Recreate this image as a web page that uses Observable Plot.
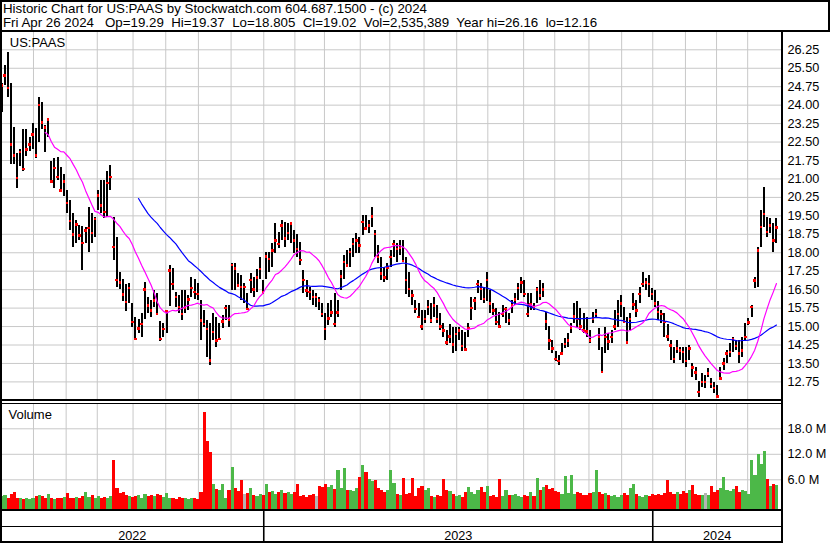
<!DOCTYPE html>
<html><head><meta charset="utf-8">
<script src="https://cdn.jsdelivr.net/npm/d3@7"></script>
<script src="https://cdn.jsdelivr.net/npm/@observablehq/plot@0.6"></script>
<style>
html,body{margin:0;padding:0;background:#fff;}
#chart{position:relative;width:830px;height:543px;overflow:hidden;font-family:"Liberation Sans",Arial,sans-serif;color:#000;}
#chart svg{position:absolute;left:0;}
.ln{position:absolute;background:#000;z-index:5;}
#title{position:absolute;left:0;top:0;width:830px;height:32px;box-sizing:border-box;border:2px solid #000;z-index:4;background:#fff;}
#title div{position:absolute;left:1px;white-space:pre;font-size:13.3px;line-height:14px;}
</style></head>
<body><div id="chart"><div id="title"><div id="t1" style="top:0px"></div><div id="t2" style="top:14px"></div></div></div>
<script>
const titleLine1 = "Historic Chart for US:PAAS by Stockwatch.com 604.687.1500 - (c) 2024";
const titleLine2 = "Fri Apr 26 2024   Op=19.29  Hi=19.37  Lo=18.805  Cl=19.02  Vol=2,535,389  Year hi=26.16  lo=12.16";
const symbolLabel = "US:PAAS";
const volumeLabel = "Volume";

const priceTicks = [12.75,13.5,14.25,15,15.75,16.5,17.25,18,18.75,19.5,20.25,21,21.75,22.5,23.25,24,24.75,25.5,26.25];
const volTicks = [6,12,18];
// trading-day index (from May 2 2022) of each month start
const monthStarts = [21,42,62,85,106,127,148,169,189,208,231,250,272,293,313,336,356,378,399,419,440,460,480];
const yearStarts = [0,169,419];
const yearLabels = ["2022","2023","2024"];

// one bar per two trading days
const high = [
24.9,25.6,26.16,24.9,23.1,22.03,22.2,23.0,23.0,22.7,
23.25,23.05,24.3,24.1,23.17,23.45,21.7,21.85,21.87,21.48,
21.2,20.53,20.13,19.6,19.31,19.11,19.05,19.04,19.85,19.6,
19.45,20.53,20.94,20.94,21.3,21.55,19.45,18.64,17.2,16.9,
16.7,16.74,15.93,15.38,15.3,15.52,16.8,16.2,16.06,16.47,
16.33,15.2,15.11,15.65,17.5,17.36,16.4,16.26,16.46,16.46,
16.26,17.0,16.9,16.75,16.06,15.65,15.24,15.11,15.52,15.38,
15.11,15.45,15.86,15.86,17.55,17.55,17.15,17.07,16.75,16.33,
17.15,17.0,17.3,17.8,16.87,18.02,18.0,18.36,19.18,18.84,
19.31,19.24,19.18,19.24,18.9,18.73,18.4,17.28,16.87,16.6,
16.46,16.33,16.2,15.95,15.52,15.93,16.06,16.33,16.06,17.28,
17.88,18.09,18.16,18.57,18.77,18.63,19.53,19.51,19.31,19.85,
18.9,18.29,17.82,17.41,17.55,18.09,18.5,18.36,18.5,18.5,
17.82,17.2,16.46,16.06,15.93,15.65,15.65,16.06,15.93,16.2,
15.86,15.52,15.11,14.84,15.1,14.97,14.97,14.97,14.84,14.77,
15.11,16.2,16.2,16.87,16.74,16.6,17.21,16.46,15.93,15.73,
15.58,15.86,15.79,15.52,16.06,16.33,16.74,17.0,16.87,16.33,
16.33,15.93,16.6,16.87,16.74,15.58,15.0,14.43,14.0,13.82,
14.3,14.5,14.7,15.11,15.93,16.0,15.72,15.52,15.38,14.84,
15.58,15.7,14.91,14.16,14.97,14.7,14.84,15.65,16.06,16.26,
15.79,15.38,15.52,16.33,16.06,16.6,17.21,16.94,17.07,16.53,
16.46,16.0,15.65,15.52,15.1,14.43,14.16,14.43,14.16,14.16,
14.16,14.24,13.48,13.35,12.78,13.08,13.0,13.28,12.88,12.74,
12.6,13.35,13.69,14.03,14.3,14.57,14.43,14.43,14.57,15.11,
15.32,15.86,17.0,18.22,19.72,20.64,19.45,19.38,19.18,19.38];
const low = [
23.7,24.8,24.3,21.6,21.6,20.6,21.5,21.3,21.9,22.1,
22.2,21.85,22.5,23.0,22.09,22.68,20.8,20.6,20.94,20.53,
20.3,19.6,18.9,18.2,18.36,18.5,17.28,18.36,18.0,18.36,
18.64,19.72,19.58,19.4,19.45,20.53,17.67,16.6,16.5,16.0,
15.6,15.93,14.98,14.43,14.7,14.57,15.3,15.52,15.38,15.79,
15.52,14.4,14.57,14.7,15.8,16.47,15.79,15.52,15.24,15.52,
15.65,16.2,16.1,16.06,14.43,14.97,13.75,13.41,14.43,14.16,
14.43,14.91,15.24,14.97,16.47,16.47,16.6,16.06,15.93,15.65,
16.33,16.2,16.4,16.9,16.33,16.9,17.2,17.41,17.96,18.16,
18.5,18.22,18.5,18.36,17.96,17.82,17.5,16.33,16.2,16.06,
15.86,15.79,15.65,15.35,14.43,15.04,15.38,14.97,15.38,16.46,
16.9,17.41,17.41,17.82,17.96,17.96,18.71,18.9,18.77,19.04,
17.82,17.55,16.87,16.8,16.87,17.41,17.82,17.62,17.9,17.62,
16.3,16.2,15.86,15.52,15.32,14.84,15.11,15.45,15.11,15.38,
15.11,14.84,14.57,14.24,14.3,13.9,14.0,14.43,14.0,14.03,
14.57,15.24,15.65,16.33,16.06,15.93,16.0,15.52,15.45,15.04,
14.97,15.38,15.11,15.04,15.52,15.86,16.06,16.33,16.2,15.38,
15.65,15.65,15.93,16.06,16.2,14.84,14.03,13.9,13.58,13.41,
13.9,14.1,14.16,14.7,15.11,14.97,14.84,14.7,14.57,14.3,
15.11,15.38,14.03,13.08,13.9,14.03,14.3,14.84,14.97,15.38,
15.11,14.3,14.84,15.65,15.38,15.93,16.6,16.46,16.2,16.06,
15.79,15.24,15.11,14.57,14.4,13.62,13.48,13.9,13.62,13.48,
13.35,13.62,12.94,12.8,12.1,12.53,12.5,12.94,12.47,12.27,
12.13,12.8,13.21,13.48,13.75,13.96,14.03,13.48,13.75,14.43,
15.04,15.38,16.53,16.6,18.23,19.04,18.63,18.77,18.02,18.36];
const close = [
24.8,25.2,24.7,22.4,21.95,21.03,22.1,21.4,22.2,22.4,
22.8,21.95,24.0,23.3,23.1,23.42,20.9,21.45,21.07,20.53,
20.9,20.02,19.3,18.74,19.14,18.7,18.4,18.9,19.0,18.8,
19.38,20.33,19.93,19.65,20.83,21.07,18.23,16.9,16.8,16.3,
16.0,16.57,15.18,14.5,14.93,15.11,16.5,15.86,15.65,16.06,
15.5,14.5,14.9,15.63,17.28,16.74,16.2,15.8,15.5,15.75,
16.1,16.56,16.4,16.33,15.24,15.1,14.9,13.62,14.77,14.43,
14.5,15.2,15.75,15.28,17.51,17.35,16.67,16.6,16.6,15.72,
16.9,16.5,17.0,17.33,16.38,17.85,17.75,18.09,18.5,18.36,
19.11,18.57,18.8,19.18,18.5,18.16,17.7,16.9,16.47,16.4,
16.2,16.2,16.06,15.5,14.9,15.32,15.58,15.11,15.58,17.03,
17.62,17.48,18.02,18.36,18.5,18.29,19.24,18.98,19.1,19.47,
18.77,17.82,17.16,17.0,17.4,17.82,18.36,18.16,18.2,17.67,
16.9,16.53,16.26,15.72,15.38,15.0,15.3,15.79,15.24,15.85,
15.3,15.0,14.84,14.36,14.6,14.27,14.7,14.84,14.2,14.07,
14.95,15.76,16.06,16.74,16.53,16.13,16.9,15.93,15.65,15.18,
15.0,15.52,15.72,15.24,15.86,16.1,16.57,16.8,16.33,15.52,
15.9,15.8,16.5,16.26,16.5,15.2,14.43,14.1,13.69,13.6,
13.9,14.3,14.43,14.97,15.4,15.3,15.0,14.84,14.8,14.43,
15.3,15.5,14.57,13.15,14.57,14.4,14.57,15.0,15.5,15.93,
15.2,14.36,15.3,15.9,15.65,16.33,16.74,16.8,16.74,16.33,
15.93,15.6,15.52,15.18,14.6,14.23,13.69,14.1,14.03,13.96,
13.6,14.1,13.34,13.14,12.33,12.74,12.74,13.1,12.67,12.5,
12.16,12.88,13.5,13.9,13.96,14.5,14.2,13.9,14.03,14.57,
15.16,15.8,16.87,18.09,19.04,19.58,18.84,19.11,18.5,19.02];
// millions of shares
const volume = [
2.0,2.2,1.6,2.5,3.0,1.5,1.6,1.3,1.5,1.4,
1.6,2.0,2.4,2.0,1.6,2.5,1.5,1.4,1.6,1.5,
1.8,2.8,1.6,1.6,1.8,1.5,2.0,3.0,1.8,2.2,
1.7,2.0,1.5,1.8,1.6,2.0,10.5,4.0,2.8,3.0,
2.2,2.0,1.8,2.0,2.2,1.6,2.6,2.0,2.4,2.0,
2.6,2.2,1.8,2.8,1.5,1.6,1.4,1.8,1.5,1.7,
1.4,1.6,1.5,1.4,3.0,21.9,15.0,12.5,5.0,3.8,
3.4,5.0,1.5,3.5,8.8,4.0,3.2,5.8,2.5,2.8,
4.0,2.4,2.0,2.6,2.3,4.8,3.0,3.2,2.6,3.0,
3.5,2.8,3.0,2.6,3.0,4.8,2.0,2.4,1.8,2.2,
2.6,2.0,4.5,4.2,4.8,4.2,4.6,3.8,8.2,4.0,
8.6,3.5,3.6,3.2,4.0,6.5,9.4,7.8,6.0,5.5,
5.8,4.0,3.5,3.0,3.6,8.2,5.2,2.5,2.2,6.4,
2.5,2.8,6.4,2.0,4.0,4.4,3.6,4.0,2.0,1.8,
2.4,2.0,6.0,3.5,3.2,2.5,2.0,2.2,1.8,3.0,
4.3,3.0,2.6,3.4,4.2,3.0,4.4,2.0,2.2,1.8,
6.0,2.0,3.6,2.4,2.2,2.6,2.0,1.8,2.2,2.0,
3.0,2.0,6.2,3.5,4.2,4.6,3.8,4.0,3.2,3.0,
2.5,6.8,2.8,7.0,2.6,3.0,2.8,2.4,2.2,2.8,
3.0,8.3,3.0,2.6,2.8,2.2,2.0,2.2,1.8,2.4,
2.8,2.4,4.0,5.0,2.6,2.0,1.8,2.2,2.0,2.5,
2.4,2.6,2.4,2.8,5.8,3.0,2.6,3.0,2.6,3.2,
2.8,3.4,4.7,2.6,2.4,2.2,2.8,2.4,4.4,3.0,
3.6,4.0,6.5,3.6,3.2,3.8,4.4,3.0,3.6,3.2,
2.5,10.5,7.0,12.0,9.5,12.7,6.0,4.5,4.8,4.6];

const bars = close.map((c, j) => ({
  t: 2 * j + 0.5, t0: 2 * j, t1: 2 * j + 2,
  high: high[j], low: low[j], close: c, volume: volume[j],
  dir: j === 0 ? 1 : Math.sign(c - close[j - 1])
}));

const GRID = "#c8c8c8";
const FONT = "'Liberation Sans', Arial, sans-serif";
const xDomain = [0, 500], xRange = [0.3, 778.3];
const xs = d3.scaleLinear(xDomain, xRange);
const xEnd = xs.invert(781);
const years = yearLabels.map((label, i) => ({label, mid: (yearStarts[i] + (i + 1 < yearStarts.length ? yearStarts[i + 1] : xEnd)) / 2}));
const volFloor = -1;

const base = {
  width: 830, marginLeft: 2, marginRight: 49, marginTop: 0, marginBottom: 0,
  style: {fontFamily: FONT, fontSize: "12.7px", color: "#000", background: "transparent", overflow: "visible"}
};

const pricePlot = Plot.plot({
  ...base, height: 370,
  x: {domain: xDomain, range: xRange, axis: null},
  y: {domain: [12.75, 26.25], range: [350.4, 18.3], axis: "right", ticks: priceTicks,
      tickFormat: d3.format(".2f"), tickSize: 0, tickPadding: 6, label: null},
  marks: [
    Plot.ruleY(priceTicks, {stroke: GRID}),
    Plot.ruleX(monthStarts, {stroke: GRID}),
    Plot.ruleX(bars, {x: "t", y1: "low", y2: "high", stroke: "#000", strokeWidth: 2, shapeRendering: "crispEdges"}),
    Plot.dot(bars, {x: "t", y: "close", symbol: "square", r: 1.4, fill: "#ff0000", stroke: null, shapeRendering: "crispEdges"}),
    Plot.lineY(bars, Plot.windowY({k: 45, anchor: "end", strict: true}, {x: "t", y: "close", stroke: "#0000ff", strokeWidth: 1.2})),
    Plot.lineY(bars, Plot.windowY({k: 15, anchor: "end", strict: true}, {x: "t", y: "close", stroke: "#ff00ff", strokeWidth: 1.2})),
    Plot.text([symbolLabel], {frameAnchor: "top-left", dx: 7.3, dy: 15.7, lineAnchor: "bottom", textAnchor: "start", fontSize: 13, fill: "#000"})
  ]
});

const volPlot = Plot.plot({
  ...base, height: 107,
  x: {domain: xDomain, range: xRange, axis: null},
  y: {domain: [volFloor, 24], range: [106.05, -0.2], axis: "right", ticks: volTicks,
      tickFormat: d => d.toFixed(1) + " M", tickSize: 0, tickPadding: 6, label: null},
  color: {type: "identity"},
  marks: [
    Plot.ruleY(volTicks, {stroke: GRID}),
    Plot.ruleX(monthStarts, {stroke: GRID}),
    Plot.rect(bars, {x1: "t0", x2: "t1", y1: volFloor, y2: "volume",
      fill: d => d.dir > 0 ? "#4cb848" : d.dir < 0 ? "#ff0000" : "#b4b4b4", shapeRendering: "crispEdges"}),
    Plot.text([volumeLabel], {frameAnchor: "top-left", dx: 6, dy: 15, lineAnchor: "bottom", textAnchor: "start", fontSize: 13, fill: "#000"})
  ]
});

const axisPlot = Plot.plot({
  ...base, height: 33,
  x: {domain: xDomain, range: xRange, axis: null},
  marks: [
    Plot.ruleX(yearStarts.slice(1), {stroke: "#000", strokeWidth: 1.6}),
    Plot.text(years, {x: "mid", text: "label", frameAnchor: "bottom", dy: -3.7, lineAnchor: "bottom", fontSize: 12.7, fill: "#000"})
  ]
});

const chart = document.getElementById("chart");
document.getElementById("t1").textContent = titleLine1;
document.getElementById("t2").textContent = titleLine2;
pricePlot.style.top = "31px";
volPlot.style.top = "403px";
axisPlot.style.top = "510px";
chart.appendChild(pricePlot);
chart.appendChild(volPlot);
chart.appendChild(axisPlot);

// panel frame lines
const lines = [
  [0, 31, 2, 512],      // left edge
  [781, 31, 2, 512],    // right axis edge
  [0, 399, 783, 2],     // bottom of price panel
  [0, 403, 783, 1],     // top of volume panel
  [0, 509, 783, 2],     // bottom of volume panel
  [0, 526, 783, 1],     // between rows
  [0, 541, 783, 2]      // bottom edge
];
for (const [l, t, w, h] of lines) {
  const d = document.createElement("div");
  d.className = "ln";
  d.style.left = l + "px"; d.style.top = t + "px"; d.style.width = w + "px"; d.style.height = h + "px";
  chart.appendChild(d);
}
</script>
</body></html>
